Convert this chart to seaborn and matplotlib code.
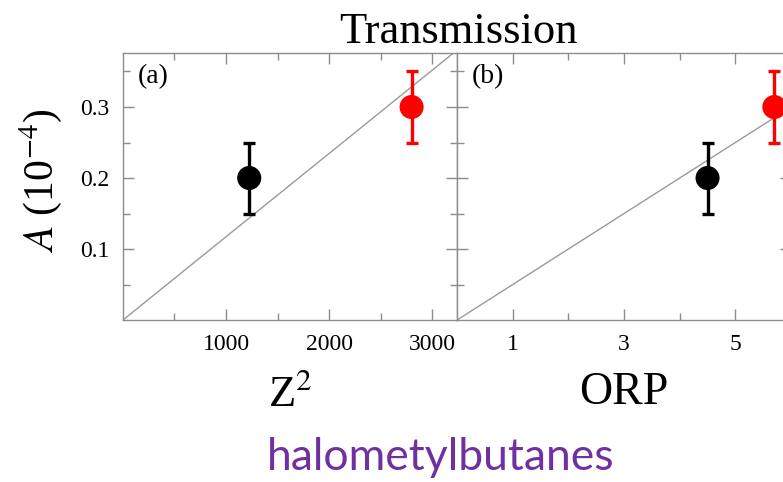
import matplotlib
matplotlib.use("Agg")
import matplotlib.pyplot as plt
from matplotlib.ticker import FixedLocator
import seaborn as sns

# data
z2 = [1225, 2800]
orp = [4.5, 5.7]
amp = [0.2, 0.3]
amp_err = [0.05, 0.05]
point_colors = ["black", "red"]

fit_z2 = [0, 3240]
fit_z2_amp = [0, 0.380]
fit_orp = [0, 6.0]
fit_orp_amp = [0, 0.30]

sns.set_style("ticks")
plt.rcParams["font.family"] = ["Liberation Serif", "DejaVu Serif"]
plt.rcParams["mathtext.fontset"] = "stix"
plt.rcParams["text.color"] = "black"
plt.rcParams["axes.labelcolor"] = "black"
plt.rcParams["xtick.labelcolor"] = "black"
plt.rcParams["ytick.labelcolor"] = "black"

SPINE = "#8c8c8c"
FIT = "#9a9a9a"

fig = plt.figure(figsize=(7.83, 4.82), dpi=100)
ax1 = fig.add_axes([0.157, 0.336, 0.4266, 0.554])
ax2 = fig.add_axes([0.5837, 0.336, 0.4266, 0.554])


def draw_panel(ax, xs, fit_x, fit_y):
    sns.lineplot(x=fit_x, y=fit_y, ax=ax, color=FIT, lw=1.0)
    for x, y, e, c in zip(xs, amp, amp_err, point_colors):
        ax.errorbar(x, y, yerr=e, fmt="none", ecolor=c, elinewidth=2.4,
                    capsize=4, capthick=2.4)
    sns.scatterplot(x=xs, y=amp, hue=point_colors, palette=point_colors,
                    s=300, edgecolor="none", legend=False, ax=ax, zorder=5)
    ax.set_ylim(0, 0.376)
    ax.yaxis.set_major_locator(FixedLocator([0.1, 0.2, 0.3]))
    ax.yaxis.set_minor_locator(FixedLocator([0.05, 0.15, 0.25, 0.35]))
    for s in ax.spines.values():
        s.set_color(SPINE)
        s.set_linewidth(1.0)
    ax.tick_params(which="both", direction="in", top=True, right=True,
                   color=SPINE, labelsize=17, pad=10)
    ax.tick_params(which="major", length=8, width=1)
    ax.tick_params(which="minor", length=5, width=1)


draw_panel(ax1, z2, fit_z2, fit_z2_amp)
ax1.set_xlim(0, 3240)
ax1.xaxis.set_major_locator(FixedLocator([1000, 2000, 3000]))
ax1.xaxis.set_minor_locator(FixedLocator([500, 1500, 2500]))
ax1.set_xlabel(r"Z$^{2}$", fontsize=32, labelpad=14)
ax1.set_ylabel(r"$A$ (10$^{-4}$)", fontsize=30)
ax1.yaxis.set_label_coords(-0.175, 0.52)
ax1.text(0.045, 0.91, "(a)", transform=ax1.transAxes, fontsize=20,
         va="center", ha="left")

draw_panel(ax2, orp, fit_orp, fit_orp_amp)
ax2.set_xlim(0, 6.0)
ax2.xaxis.set_major_locator(FixedLocator([1, 3, 5]))
ax2.xaxis.set_minor_locator(FixedLocator([2, 4]))
ax2.set_yticklabels([])
ax2.set_ylabel("")
ax2.set_xlabel("ORP", fontsize=33, labelpad=12)
ax2.text(0.045, 0.91, "(b)", transform=ax2.transAxes, fontsize=20,
         va="center", ha="left")

fig.text(0.585, 1 - 43 / 482, "Transmission", fontsize=32,
         ha="center", va="baseline")
fig.text(0.563, 1 - 458 / 482, "halometylbutanes", fontsize=32,
         color="#7030A0", family=["Lato", "DejaVu Sans"],
         ha="center", va="center")

fig.savefig("out.png", dpi=100)
